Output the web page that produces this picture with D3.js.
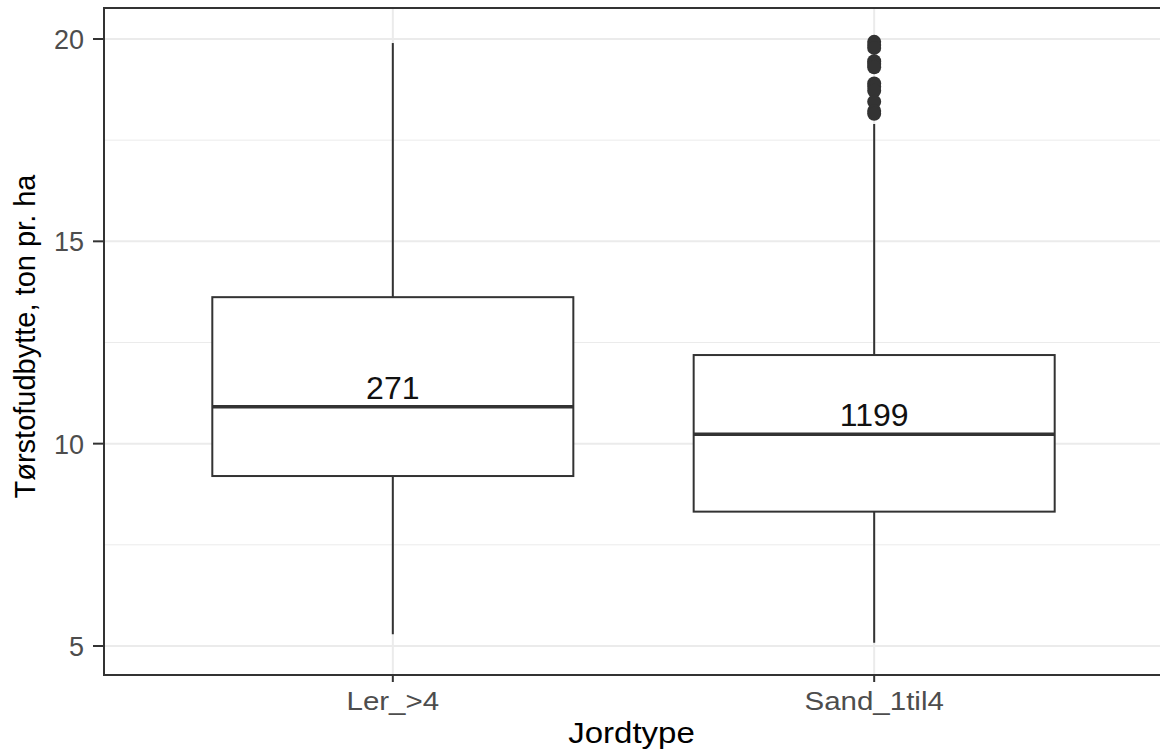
<!DOCTYPE html>
<html>
<head>
<meta charset="utf-8">
<script src="https://cdn.jsdelivr.net/npm/d3@7"></script>
<style>
  body { margin: 0; background: #fff; }
  text { font-family: "Liberation Sans", Arial, sans-serif; }
</style>
</head>
<body>
<svg id="chart"></svg>
<script>
// categories and box statistics
var categories = ["Ler_>4", "Sand_1til4"];
var counts = [271, 1199];
var whiskerLow = [5.29, 5.08];
var q1 = [9.20, 8.32];
var medians = [10.91, 10.23];
var q3 = [13.62, 12.19];
var whiskerHigh = [19.9, 17.9];
var sandOutliers = [19.93, 19.85, 19.78, 19.45, 19.38, 19.3, 18.9, 18.82, 18.72, 18.45, 18.22, 18.15];
var yTicks = [5, 10, 15, 20];
var yMinor = [7.5, 12.5, 17.5];

var width = 1160, height = 753;
var svg = d3.select("#chart").attr("width", width).attr("height", height);

var panel = { left: 104, right: 1163, top: 8, bottom: 675 };

var x = d3.scalePoint()
  .domain(categories)
  .range([panel.left, panel.right])
  .padding(0.6);

var y = d3.scaleLinear()
  .domain([4.283, 20.766])
  .range([panel.bottom, panel.top]);

var boxWidth = x.step() * 0.75;
var ink = "#333333";

// grid
var grid = svg.append("g");
grid.selectAll(".minor").data(yMinor).enter().append("line")
  .attr("x1", panel.left).attr("x2", panel.right)
  .attr("y1", d => y(d)).attr("y2", d => y(d))
  .attr("stroke", "#ebebeb").attr("stroke-width", 1);
grid.selectAll(".major").data(yTicks).enter().append("line")
  .attr("x1", panel.left).attr("x2", panel.right)
  .attr("y1", d => y(d)).attr("y2", d => y(d))
  .attr("stroke", "#ebebeb").attr("stroke-width", 2);
grid.selectAll(".vmajor").data(categories).enter().append("line")
  .attr("x1", d => x(d)).attr("x2", d => x(d))
  .attr("y1", panel.top).attr("y2", panel.bottom)
  .attr("stroke", "#ebebeb").attr("stroke-width", 2);

// boxes
var boxes = svg.append("g").selectAll("g").data(categories).enter().append("g");

boxes.append("line")
  .attr("x1", d => x(d)).attr("x2", d => x(d))
  .attr("y1", (d, i) => y(q3[i])).attr("y2", (d, i) => y(whiskerHigh[i]))
  .attr("stroke", ink).attr("stroke-width", 2);
boxes.append("line")
  .attr("x1", d => x(d)).attr("x2", d => x(d))
  .attr("y1", (d, i) => y(q1[i])).attr("y2", (d, i) => y(whiskerLow[i]))
  .attr("stroke", ink).attr("stroke-width", 2);
boxes.append("rect")
  .attr("x", d => x(d) - boxWidth / 2)
  .attr("width", boxWidth)
  .attr("y", (d, i) => y(q3[i]))
  .attr("height", (d, i) => y(q1[i]) - y(q3[i]))
  .attr("fill", "#fff").attr("stroke", ink).attr("stroke-width", 2);
boxes.append("line")
  .attr("x1", d => x(d) - boxWidth / 2).attr("x2", d => x(d) + boxWidth / 2)
  .attr("y1", (d, i) => y(medians[i])).attr("y2", (d, i) => y(medians[i]))
  .attr("stroke", ink).attr("stroke-width", 3.5);
boxes.append("text")
  .attr("x", d => x(d))
  .attr("y", (d, i) => y(medians[i]) - 8)
  .attr("text-anchor", "middle")
  .attr("font-size", 32)
  .attr("fill", "#111")
  .text((d, i) => counts[i]);

svg.append("g").selectAll("circle").data(sandOutliers).enter().append("circle")
  .attr("cx", x("Sand_1til4"))
  .attr("cy", d => y(d))
  .attr("r", 7)
  .attr("fill", ink);

// panel border
svg.append("rect")
  .attr("x", panel.left).attr("y", panel.top)
  .attr("width", panel.right - panel.left)
  .attr("height", panel.bottom - panel.top)
  .attr("fill", "none").attr("stroke", ink).attr("stroke-width", 2);

// y axis
var yAxis = svg.append("g");
yAxis.selectAll("line").data(yTicks).enter().append("line")
  .attr("x1", panel.left - 11).attr("x2", panel.left)
  .attr("y1", d => y(d)).attr("y2", d => y(d))
  .attr("stroke", ink).attr("stroke-width", 2);
yAxis.selectAll("text").data(yTicks).enter().append("text")
  .attr("x", 84)
  .attr("y", d => y(d) + 10)
  .attr("text-anchor", "end")
  .attr("font-size", 27)
  .attr("fill", "#4d4d4d")
  .text(d => d);

// x axis
var xAxis = svg.append("g");
xAxis.selectAll("line").data(categories).enter().append("line")
  .attr("x1", d => x(d)).attr("x2", d => x(d))
  .attr("y1", panel.bottom).attr("y2", panel.bottom + 7)
  .attr("stroke", ink).attr("stroke-width", 2);
xAxis.selectAll("text").data(categories).enter().append("text")
  .attr("transform", d => "translate(" + x(d) + ",710) scale(1.18,1)")
  .attr("text-anchor", "middle")
  .attr("font-size", 25)
  .attr("fill", "#4d4d4d")
  .text(d => d);

// titles
svg.append("text")
  .attr("transform", "translate(" + ((panel.left + panel.right) / 2 - 2) + ",743) scale(1.1,1)")
  .attr("text-anchor", "middle")
  .attr("font-size", 30)
  .attr("fill", "#000")
  .text("Jordtype");

svg.append("text")
  .attr("transform", "translate(35," + ((panel.top + panel.bottom) / 2 - 5) + ") rotate(-90)")
  .attr("text-anchor", "middle")
  .attr("font-size", 29)
  .attr("fill", "#000")
  .text("Tørstofudbytte, ton pr. ha");
</script>
</body>
</html>
